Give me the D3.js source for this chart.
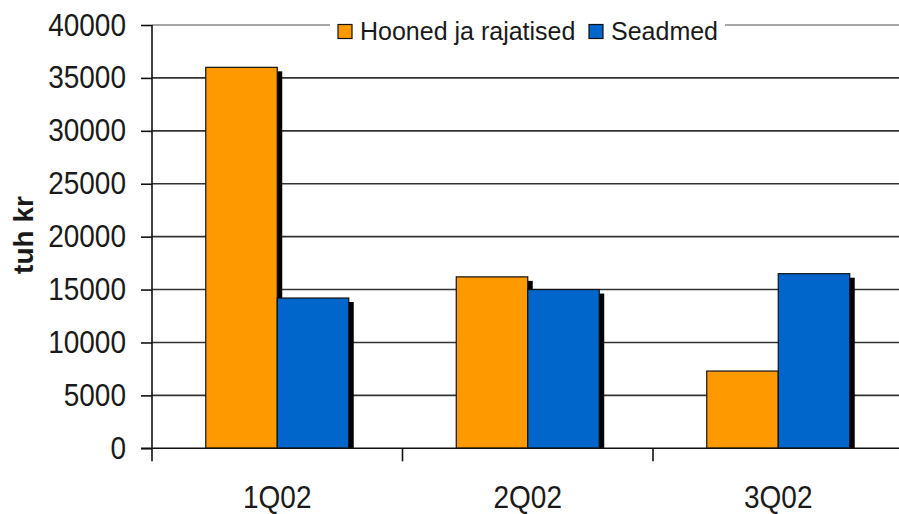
<!DOCTYPE html>
<html>
<head>
<meta charset="utf-8">
<script src="https://cdn.jsdelivr.net/npm/d3@7"></script>
<style>
  html, body { margin: 0; padding: 0; background: #fff; }
  svg { display: block; }
  text { font-family: "Liberation Sans", Arial, sans-serif; fill: #1a1a1a; }
</style>
</head>
<body>
<svg id="chart" width="899" height="514"></svg>
<script>
// Investments by quarter (thousand kroons)
const categories = ["1Q02", "2Q02", "3Q02"];
const seriesNames = ["Hooned ja rajatised", "Seadmed"];
const buildings = [36000, 16200, 7300];
const equipment = [14200, 15000, 16500];
const yTicks = [0, 5000, 10000, 15000, 20000, 25000, 30000, 35000, 40000];
const seriesColors = ["#ff9900", "#0066cc"];
const yLabel = "tuh kr";

const rows = categories.map((c, i) => ({ cat: c, values: [buildings[i], equipment[i]] }));

const svg = d3.select("#chart");
const plot = { left: 152, right: 903.5, top: 25, bottom: 448.3 };

const y = d3.scaleLinear().domain([0, 40000]).range([plot.bottom, plot.top]);
const x0 = d3.scaleBand().domain(categories).range([plot.left, plot.right]).padding(0);
const x1 = d3.scaleBand().domain(seriesNames).range([0, x0.bandwidth()])
  .paddingInner(0).paddingOuter(0.752);

// plot frame top line
svg.append("line")
  .attr("x1", plot.left).attr("x2", plot.right).attr("y1", plot.top).attr("y2", plot.top)
  .attr("stroke", "#a6a6a6").attr("stroke-width", 2);

// horizontal gridlines
svg.append("g").selectAll("line")
  .data(yTicks.filter(d => d > 0 && d < 40000))
  .join("line")
  .attr("x1", plot.left).attr("x2", plot.right)
  .attr("y1", d => y(d)).attr("y2", d => y(d))
  .attr("stroke", "#333").attr("stroke-width", 1.6);

// bars with drop shadows
const groups = svg.append("g").selectAll("g")
  .data(rows).join("g")
  .attr("transform", d => `translate(${x0(d.cat)},0)`);

groups.each(function (d) {
  const g = d3.select(this);
  d.values.forEach((v, j) => {
    const bx = x1(seriesNames[j]);
    const bw = x1.bandwidth();
    g.append("rect")
      .attr("x", bx + 5).attr("y", y(v) + 4)
      .attr("width", bw).attr("height", Math.max(0, y(0) - y(v) - 4))
      .attr("fill", "#000");
    g.append("rect")
      .attr("x", bx).attr("y", y(v))
      .attr("width", bw).attr("height", y(0) - y(v))
      .attr("fill", seriesColors[j])
      .attr("stroke", "#111").attr("stroke-width", 1.2);
  });
});

// y axis
const yAxis = d3.axisLeft(y).tickValues(yTicks).tickSize(11).tickPadding(15)
  .tickFormat(d3.format("d"));
const gy = svg.append("g").attr("transform", `translate(${plot.left},0)`).call(yAxis);
gy.select(".domain").remove();
gy.selectAll(".tick line").attr("stroke", "#111").attr("stroke-width", 1.6);
gy.selectAll(".tick text").attr("font-size", 28).attr("fill", "#1a1a1a")
  .attr("font-family", "'Liberation Sans', Arial, sans-serif")
  .attr("transform", "scale(1,1.12)");

svg.append("line")
  .attr("x1", plot.left).attr("x2", plot.left).attr("y1", plot.top).attr("y2", plot.bottom + 13)
  .attr("stroke", "#111").attr("stroke-width", 1.6);

// x axis baseline and category dividers
svg.append("line")
  .attr("x1", plot.left - 11).attr("x2", plot.right).attr("y1", plot.bottom).attr("y2", plot.bottom)
  .attr("stroke", "#111").attr("stroke-width", 1.6);
svg.append("g").selectAll("line")
  .data(categories.slice(1))
  .join("line")
  .attr("x1", d => x0(d)).attr("x2", d => x0(d))
  .attr("y1", plot.bottom).attr("y2", plot.bottom + 13)
  .attr("stroke", "#111").attr("stroke-width", 1.6);

svg.append("g").selectAll("text")
  .data(categories).join("text")
  .attr("transform", d => `translate(${x0(d) + x0.bandwidth() / 2},508) scale(1,1.12)`)
  .attr("text-anchor", "middle")
  .attr("font-size", 28)
  .text(d => d);

// y axis title
svg.append("text")
  .attr("transform", "translate(33,235) rotate(-90)")
  .attr("text-anchor", "middle")
  .attr("font-size", 28)
  .attr("font-weight", "bold")
  .text(yLabel);

// legend over the top frame line
const legend = svg.append("g");
legend.append("rect").attr("x", 330).attr("y", 12).attr("width", 395).attr("height", 30)
  .attr("fill", "#fff");
const legendItems = [
  { sx: 338, tx: 360 },
  { sx: 589, tx: 611 }
];
seriesNames.forEach((name, i) => {
  legend.append("rect")
    .attr("x", legendItems[i].sx).attr("y", 24.5)
    .attr("width", 14).attr("height", 14)
    .attr("fill", seriesColors[i]).attr("stroke", "#111").attr("stroke-width", 1.2);
  legend.append("text")
    .attr("x", legendItems[i].tx).attr("y", 40)
    .attr("font-size", 25)
    .text(name);
});
</script>
</body>
</html>
